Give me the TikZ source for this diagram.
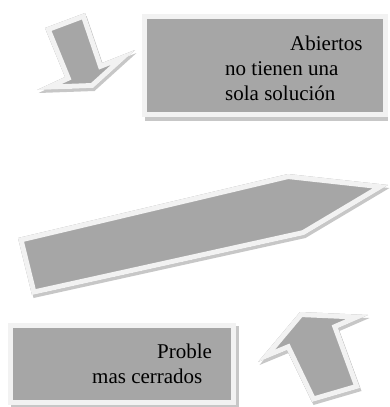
\documentclass[tikz,border=0pt]{standalone}
\usepackage{fontspec}
\setmainfont{Liberation Serif}
\usepackage{tikz}
\definecolor{gr}{gray}{0.65}
\definecolor{rim}{gray}{0.95}
\definecolor{shd}{gray}{0.78}

\begin{document}
\begin{tikzpicture}[x=1pt, y=-1pt,
  box/.style={fill=gr, draw=rim, line width=5pt, inner sep=0pt},
  txt/.style={align=left, inner sep=0pt, font=\fontsize{21}{25}\selectfont}]
\useasboundingbox (0,0) rectangle (389,407);
% text boxes
\fill[shd] (145,17) rectangle (388,121);
\node[box, minimum width=241, minimum height=98] (abiertos) at (265,65.5) {};
\node[txt, anchor=base west] (abiertostxt) at (225,100) {\hspace*{65pt}Abiertos\\no tienen una\\sola solución};
\fill[shd] (11,326) rectangle (239,407);
\node[box, minimum width=223, minimum height=77] (cerrados) at (122,364) {};
\node[txt, anchor=base west] (cerradostxt) at (92,383) {\hspace*{65pt}Proble\\mas cerrados};
% arrows
\foreach \pts in {{(45,28)--(85,13)--(102,63)--(135,50)--(93,88)--(37,90)--(65,77)},
                  {(18,238)--(288,174)--(388,185)--(304,235)--(32,295)},
                  {(300,312)--(368,315)--(338,328)--(360,388)--(312,402)--(287,350)--(258,362)}}{
\fill[shd, shift={(1.5,3)}] \pts -- cycle;
\fill[gr] \pts -- cycle;
\begin{scope}
\clip \pts -- cycle;
\draw[rim, line width=10pt, line join=miter] \pts -- cycle;
\end{scope}
}
\end{tikzpicture}
\end{document}
